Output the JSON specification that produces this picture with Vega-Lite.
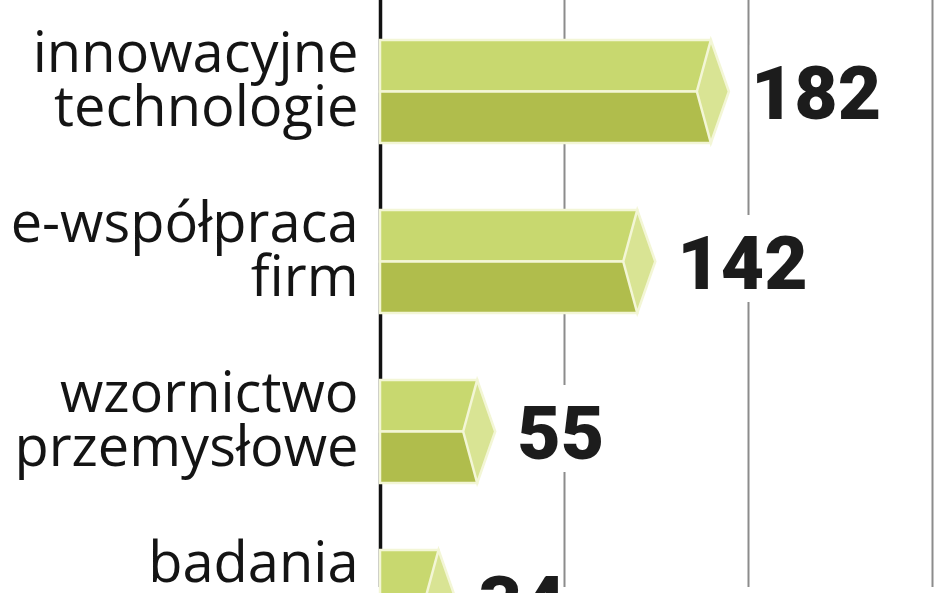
{
  "$schema": "https://vega.github.io/schema/vega-lite/v6.json",
  "width": 568,
  "height": 593,
  "autosize": {"type": "none"},
  "padding": {"left": 380, "top": 0, "right": 0, "bottom": 0},
  "background": "white",
  "config": {"view": {"stroke": null}},
  "data": {
    "values": [
      {"kategoria": "innowacyjne|technologie", "wartosc": 182},
      {"kategoria": "e-współpraca|firm", "wartosc": 142},
      {"kategoria": "wzornictwo|przemysłowe", "wartosc": 55},
      {"kategoria": "badania|naukowe", "wartosc": 34}
    ]
  },
  "encoding": {
    "y": {
      "field": "kategoria",
      "type": "nominal",
      "sort": null,
      "scale": {"range": [6.5, 686.5], "paddingInner": 0, "paddingOuter": 0},
      "axis": {
        "title": null,
        "ticks": false,
        "domain": false,
        "grid": false,
        "labelExpr": "split(datum.label, '|')",
        "labelFont": "Open Sans",
        "labelFontSize": 56,
        "labelColor": "#141414",
        "labelLineHeight": 54,
        "labelPadding": 22,
        "labelBaseline": "middle",
        "labelOffset": -37,
        "labelLimit": 400,
        "labelOverlap": false
      }
    }
  },
  "layer": [
    {
      "mark": {"type": "bar", "color": "white", "height": 87, "yOffset": -3, "xOffset": 35, "x2Offset": 116},
      "encoding": {
        "x": {
          "field": "wartosc",
          "type": "quantitative",
          "scale": {"domain": [0, 308.7], "nice": false},
          "axis": {
            "title": null,
            "labels": false,
            "ticks": false,
            "domain": false,
            "grid": true,
            "values": [0, 100, 200, 300],
            "gridColor": {"condition": {"test": "datum.value === 0", "value": "#111111"}, "value": "#8c8c8c"},
            "gridWidth": {"condition": {"test": "datum.value === 0", "value": 3.5}, "value": 2}
          }
        },
        "x2": {"field": "wartosc"}
      }
    },
    {
      "mark": {"type": "bar", "height": 51.5, "yOffset": -25.75, "fill": "#c8d86f", "stroke": "#f3f6d6", "strokeWidth": 2.5, "xOffset": -4},
      "encoding": {
        "x": {"field": "wartosc", "type": "quantitative"},
        "x2": {"datum": 0}
      }
    },
    {
      "mark": {"type": "bar", "height": 51.5, "yOffset": 25.75, "fill": "#b0bd4c", "stroke": "#f3f6d6", "strokeWidth": 2.5, "xOffset": -4},
      "encoding": {
        "x": {"field": "wartosc", "type": "quantitative"},
        "x2": {"datum": 0}
      }
    },
    {
      "mark": {"type": "point", "filled": true, "opacity": 1, "shape": "M-0.078,-1L0.272,0L-0.078,1L-0.35,0Z", "size": 10609, "fill": "#d9e494", "stroke": "#f3f6d6", "strokeWidth": 2.5},
      "encoding": {
        "x": {"field": "wartosc", "type": "quantitative"}
      }
    },
    {
      "mark": {"type": "text", "align": "left", "baseline": "alphabetic", "dx": 36, "dy": 27, "font": "Roboto", "fontWeight": 900, "fontSize": 75, "color": "#1c1c1c"},
      "encoding": {
        "x": {"field": "wartosc", "type": "quantitative"},
        "text": {"field": "wartosc", "type": "quantitative"}
      }
    }
  ]
}
